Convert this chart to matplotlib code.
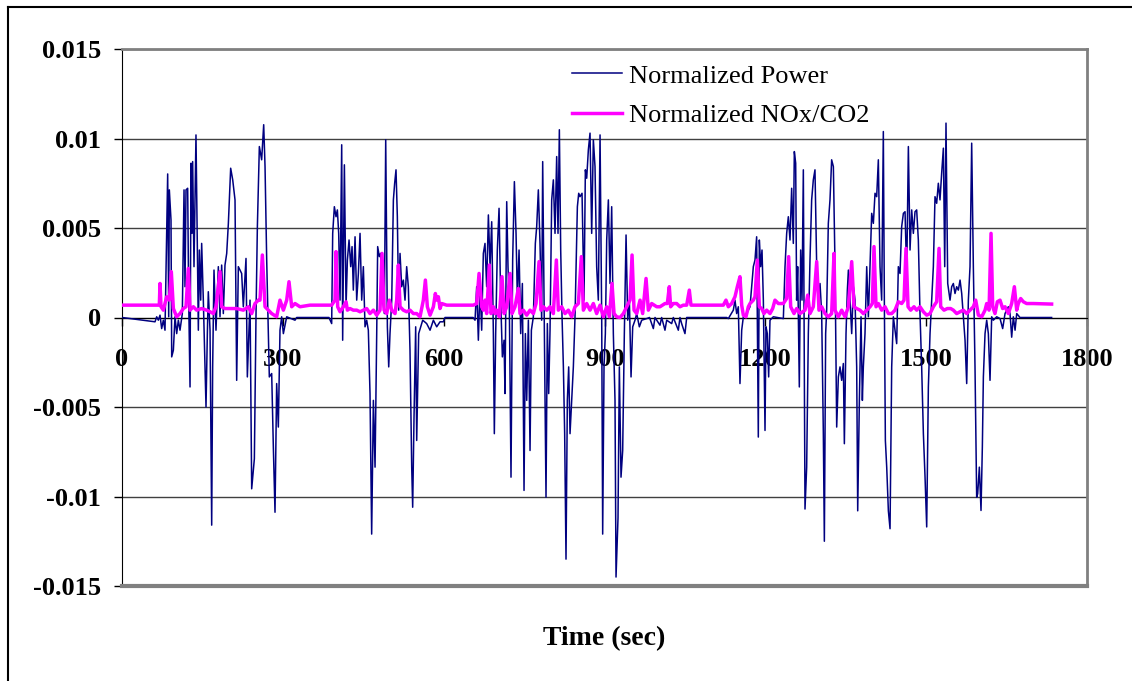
import matplotlib
matplotlib.use("Agg")
import matplotlib.pyplot as plt
import numpy as np

# (time s, value x 1e-3), peaks and troughs only
power_pts = [
    (0, 0), (61.6, -0.24), (64.7, 0.04), (67.8, -0.15), (70.9, 0.13), (74.0, -0.62), (77.1, -0.15),
    (80.2, -0.71), (85.2, 8.02), (87.1, 0.04), (88.3, 7.13), (91.4, 5.45), (92.7, -2.2), (95.8, -1.83),
    (98.9, 0.04), (102.0, -0.9), (105.1, -0.15), (108.2, -0.71), (112.5, 0.22), (115.7, 7.13),
    (117.5, 1.72), (119.4, 7.13), (122.5, 7.22), (124.4, 0.97), (126.9, -3.88), (128.7, 8.62),
    (130.6, 4.70), (131.8, 8.71), (134.3, 2.84), (138.0, 10.2), (142.4, -0.71), (144.3, 3.77),
    (146.8, 0.97), (148.6, 4.14), (151.7, 0.97), (156.7, -5.0), (159.2, -0.9), (161.0, 1.44),
    (164.2, -0.71), (167.3, -11.6), (169.1, -2.76), (171.6, 2.65), (175.3, -0.71), (179.7, 2.84),
    (182.8, 0.04), (185.9, 2.93), (189.0, 0.22), (192.1, 2.93), (195.3, 3.58), (198.4, 5.26),
    (202.7, 8.34), (206.5, 7.69), (210.8, 6.57), (213.9, -3.51), (217.0, 2.84), (220.1, 2.65),
    (223.2, 2.46), (226.3, 0.6), (231.3, 3.3), (233.8, -3.32), (238.8, 0.97), (241.9, -9.57),
    (246.9, -7.89), (250.0, 0.22), (252.5, 5.07), (256.2, 9.55), (260.5, 8.81), (264.3, 10.77),
    (266.8, 8.43), (269.9, 3.21), (274.8, -3.32), (279.2, -3.13), (282.3, -7.24), (285.4, -10.88),
    (288.5, -3.69), (291.6, -6.12), (294.7, -0.71), (297.8, 0.04), (301.0, -0.9), (307.2, 0.04),
    (322.7, -0.15), (325.8, 0),
    (386.0, 0), (391.1, -0.34), (393.0, 4.70), (396.1, 6.19), (399.2, 5.63), (401.7, 6.01),
    (404.2, 4.70), (406.7, 0.97), (409.8, 9.65), (411.6, -1.27), (414.8, 8.53), (417.9, 0.6),
    (420.4, 3.21), (423.5, 4.33), (426.6, 2.84), (429.1, 3.96), (431.5, 1.53), (434.7, 4.51),
    (437.8, 0.97), (440.9, 2.46), (444.0, 4.70), (447.1, 0.97), (450.2, 2.84), (453.3, -0.52),
    (456.4, -0.15), (459.5, -0.71), (462.6, -4.25), (465.7, -12.1), (468.9, -4.63), (472.0, -8.36),
    (475.1, -0.9), (476.9, 3.96), (480.0, 3.40), (482.5, 3.58), (486.3, 0.97), (489.4, 0.22),
    (491.9, 9.93), (495.0, -0.52), (497.5, -2.76), (499.9, -0.9), (503.1, 0.97), (506.2, 6.57),
    (508.6, 7.5), (511.1, 8.25), (513.6, 5.63), (516.1, 0.41), (518.6, 3.58), (521.7, 1.72),
    (524.8, 2.09), (527.9, 0.97), (531.0, 2.84), (534.1, 1.72), (537.2, -1.83), (540.4, -8.36),
    (542.2, -10.6), (544.7, -5.56), (547.8, -0.52), (549.7, -6.87), (553.4, -0.9), (557.1, -0.52),
    (560.9, -0.15), (568.3, -0.34), (574.6, -0.71), (580.8, -0.15), (587.0, -0.52), (593.2, -0.24),
    (599.4, -0.24), (602.5, 0),
    (655.0, 0), (658.5, -0.15), (661.6, 1.72), (664.7, -1.27), (667.8, 1.72), (670.9, -0.71),
    (674.0, 3.58), (677.1, 4.14), (680.2, 1.72), (683.4, 5.73), (686.5, 2.84), (689.6, 5.35),
    (692.7, -0.9), (694.5, -6.49), (697.0, -0.9), (700.1, 3.77), (703.3, 6.10), (706.4, 0.97),
    (709.5, -2.2), (712.6, -1.27), (714.4, -4.25), (717.6, 6.47), (720.0, 2.84), (722.5, 0.6),
    (725.6, -8.92), (728.7, 3.21), (731.9, 7.59), (735.0, 4.70), (737.5, 0.97), (740.6, 3.77),
    (743.7, -0.9), (746.8, 1.90), (749.9, -9.66), (752.4, -0.9), (754.9, -4.63), (758.0, -0.15),
    (761.1, -7.43), (763.6, -0.71), (767.3, 0.04), (771.0, 4.14), (773.5, 5.07), (776.6, 7.13),
    (779.7, 4.14), (782.8, -0.15), (784.7, 8.71), (787.8, -0.9), (790.9, -10.04), (793.4, -0.34),
    (795.9, -4.25), (798.4, -0.71), (801.5, 6.57), (804.6, 7.69), (807.7, 4.70), (810.8, 8.99),
    (813.3, 4.70), (815.8, 10.49), (818.3, 3.77), (820.8, 0.04), (823.3, -2.76), (825.7, -6.49),
    (828.2, -13.5), (830.7, -4.63), (833.2, -2.76), (835.7, -6.49), (838.8, -4.63), (841.9, -2.76),
    (845.0, 0.04), (849.4, 6.19), (851.9, 6.94), (854.3, 6.75), (858.1, 6.94), (861.8, 0.97),
    (864.3, 8.25), (866.8, 7.78), (869.9, 9.37), (873.0, 10.3), (876.1, 4.70), (879.2, 9.93),
    (882.3, 8.43), (885.4, 2.84), (888.5, 0.97), (891.7, 10.2), (894.8, -0.15), (896.6, -12.1),
    (899.1, -2.76), (901.6, -0.9), (904.1, 4.33), (907.2, 6.57), (910.3, 1.90), (913.4, 6.19),
    (916.5, -0.9), (919.6, -4.63), (921.5, -14.5), (925.2, -11.2), (927.7, -2.76), (930.8, -8.92),
    (933.9, -7.43), (937.0, -0.9), (940.2, 4.61), (943.3, -0.15), (946.4, 0.97), (949.5, -3.32),
    (952.6, -0.52), (956.9, -0.15), (960.1, 0.22), (965.0, -0.52), (969.4, -0.15), (978.7, -0.06),
    (984.0, 0), (991.1, -0.62), (994.2, 0), (1003.5, -0.43), (1006.6, 0), (1012.8, -0.71),
    (1016.0, -0.15), (1025.3, -0.34), (1028.4, 0), (1037.7, -0.71), (1040.8, 0), (1043.9, -0.34),
    (1050.1, -0.9), (1053.3, 0),
    (1127.9, 0), (1131.0, -0.06), (1140.3, 0.41), (1143.4, 0.97), (1146.5, 0.22), (1149.6, 0.6),
    (1152.7, -3.69), (1155.9, -0.71), (1159.0, 0.04), (1165.2, 0.22), (1171.4, 0.6), (1177.6, 2.84),
    (1180.7, 3.21), (1183.8, 4.51), (1186.9, -6.68), (1188.8, 4.33), (1191.3, 2.84), (1193.8, 3.77),
    (1196.3, 0.97), (1199.4, -6.31), (1201.2, -0.52), (1203.7, -0.9), (1206.2, -3.32), (1208.7, -0.15),
    (1214.9, 0.04), (1233.6, -0.06), (1236.7, 2.84), (1239.8, 4.70), (1242.9, 5.63), (1246.0, 4.33),
    (1249.1, 7.22), (1252.2, 4.14), (1254.1, 9.27), (1256.6, 8.62), (1258.4, 0.97), (1260.3, 2.84),
    (1263.4, -3.88), (1265.9, 3.77), (1268.4, 0.97), (1270.9, 8.25), (1274.0, -10.7), (1277.1, -8.36),
    (1280.2, -0.9), (1283.3, 3.21), (1286.4, 6.57), (1289.5, 7.69), (1292.6, 8.25), (1295.8, 2.84),
    (1298.9, 0.97), (1302.0, 1.90), (1305.1, 0.22), (1308.2, -6.49), (1310.1, -12.5), (1312.5, -0.9),
    (1314.4, 0.41), (1317.5, 5.26), (1320.6, 6.57), (1323.7, 8.81), (1326.9, 8.43), (1330.0, 2.84),
    (1333.1, -6.12), (1336.2, -3.32), (1339.3, -2.76), (1342.4, -3.51), (1345.5, -2.57),
    (1347.4, -7.05), (1350.5, -0.9), (1353.0, 1.53), (1354.9, 2.65), (1358.0, 0.97), (1361.1, -0.9),
    (1364.2, 1.72), (1367.3, 0.97), (1370.4, -2.76), (1372.3, -10.8), (1375.4, -4.63), (1378.5, 0.04),
    (1381.0, -4.63), (1382.8, -2.76), (1385.9, -0.9), (1389.1, 2.84), (1392.2, 0.04), (1395.3, 2.84),
    (1398.4, 5.82), (1401.5, 5.26), (1404.6, 6.94), (1407.7, 6.75), (1410.8, 8.81), (1413.9, 2.84),
    (1417.0, 0.97), (1420.1, 10.39), (1422.0, 0.97), (1423.9, -6.87), (1426.4, -8.36),
    (1429.5, -10.8), (1432.6, -11.8), (1435.7, -2.76), (1438.8, 0.04), (1441.9, -0.71),
    (1445.0, -1.46), (1448.1, 2.84), (1451.2, 2.46), (1454.3, 5.07), (1457.5, 5.82), (1460.6, 5.91),
    (1463.7, 2.28), (1466.8, 9.55), (1469.9, 3.77), (1473.0, 6.01), (1476.1, 4.70), (1479.2, 5.91),
    (1482.3, 6.01), (1485.4, 4.33), (1488.5, 0.22), (1491.6, -2.76), (1494.8, -6.49), (1497.9, -8.92),
    (1501.0, -11.7), (1504.1, -3.88), (1507.2, -0.9), (1510.3, 0.97), (1513.4, 2.84), (1516.5, 6.75),
    (1519.6, 6.38), (1522.7, 7.5), (1525.8, 6.57), (1528.9, 8.06), (1532.1, 9.46), (1534.6, 2.84),
    (1537.0, 10.86), (1540.2, 1.90), (1544.5, 0.97), (1547.6, 1.72), (1550.7, 1.90), (1553.8, 1.34),
    (1556.9, 1.72), (1560.0, 1.53), (1563.2, 2.09), (1566.3, 1.34), (1569.4, 0.04), (1572.5, -1.27),
    (1575.6, -3.69), (1578.7, 0.97), (1581.8, 2.84), (1584.9, 9.74), (1588.0, 2.84), (1591.1, -2.76),
    (1594.2, -10.04), (1596.1, -9.85), (1599.2, -8.36), (1602.3, -10.78), (1604.8, -7.24),
    (1606.7, -3.32), (1609.8, -0.9), (1612.9, -0.15), (1616.0, -0.9), (1619.1, -3.51), (1622.2, 0.04),
    (1625.3, -0.15), (1631.6, 0.04), (1637.8, -0.06), (1642.7, -0.62), (1647.1, 0.22), (1653.3, 0.6),
    (1656.4, 0.22), (1659.5, -1.1), (1662.6, 0.04), (1665.8, -0.71), (1668.9, 0.22), (1675.0, 0),
    (1734.0, 0),
]

nox_pts = [
    (0, 0.69), (69.6, 0.69), (70.9, 1.90), (72.8, 0.6), (77.1, 0.41), (83.3, 1.16), (88.3, 0.97),
    (92.0, 2.56), (95.8, 0.5), (102.0, 0.04), (108.2, 0.22), (114.4, 0.5), (119.4, 0.6),
    (123.7, 2.74), (126.9, 0.41), (133.1, 0.6), (139.3, 0.41), (148.6, 0.5), (158.0, 0.41),
    (164.2, 0.32), (170.4, 0.22), (175.3, 0.6), (179.7, 1.72), (182.8, 2.56), (185.9, 0.6),
    (192.1, 0.5), (201.5, 0.5), (213.9, 0.5), (226.3, 0.41), (235.7, 0.6), (241.9, 0.22),
    (248.1, 0.78), (254.3, 0.97), (257.4, 0.97), (261.8, 3.49), (266.8, 0.6), (273.0, 0.41),
    (279.2, 0.22), (288.5, 0.04), (294.7, 0.97), (301.0, 0.41), (307.2, 0.97), (311.5, 2.0),
    (316.5, 0.6), (322.7, 0.78), (332.0, 0.6), (350.7, 0.69),
    (391.1, 0.69), (397.3, 0.97), (399.2, 3.68), (402.3, 0.6), (406.7, 0.32), (412.9, 0.6),
    (417.9, 0.88), (420.4, 0.41), (425.3, 0.5), (431.5, 0.41), (437.8, 0.41), (444.0, 0.32),
    (450.2, 0.41), (456.4, 0.5), (462.6, 0.22), (468.9, 0.41), (475.1, 0.13), (481.3, 0.41),
    (485.0, 3.58), (488.8, 0.41), (493.7, 0.22), (498.7, 0.97), (503.1, 0.41), (509.3, 0.22),
    (512.4, 0.97), (515.5, 2.93), (518.6, 0.6), (524.8, 0.41), (531.0, 0.32), (537.2, 0.41),
    (543.5, 0.22), (549.7, 0.22), (555.9, 0.04), (562.1, 0.97), (565.9, 2.09), (569.6, 0.6),
    (574.6, 0.13), (580.8, 0.6), (584.5, 1.34), (587.0, 0.97), (590.1, 1.16), (593.2, 0.5),
    (596.3, 0.78), (605.6, 0.69), (655.4, 0.69), (661.6, 0.78), (666.0, 2.46), (670.9, 0.6),
    (674.0, 0.41), (677.1, 0.97), (680.2, 0.22), (685.2, 2.93), (688.3, 0.22), (692.7, 0.6),
    (695.8, 0.22), (698.9, 0.41), (703.9, 0.04), (708.8, 2.28), (712.6, 0.22), (717.6, 0.6),
    (723.8, 2.46), (727.5, 0.22), (733.1, 0.6), (739.3, 1.62), (742.4, 0.22), (748.6, 0.41),
    (754.9, 0.13), (761.1, 0.41), (767.3, 0.22), (772.3, 0.78), (777.9, 3.12), (781.6, 0.41),
    (786.0, 0.6), (792.2, 0.41), (798.4, 0.6), (804.6, 0.22), (810.2, 3.21), (813.9, 0.41),
    (820.1, 0.6), (826.4, 0.22), (832.6, 0.41), (838.8, 0.04), (845.0, 0.6), (851.2, 0.78),
    (856.8, 3.40), (860.6, 0.41), (866.8, 0.78), (873.0, 0.41), (879.2, 0.78), (885.4, 0.22),
    (891.7, 0.69), (897.9, 0.04), (904.1, 0.6), (909.1, 0.04), (914.0, 1.90), (917.8, 0.22),
    (922.7, 0.04), (929.0, 0.0), (935.2, 0.22), (941.4, 0.6), (947.6, 0.97), (951.4, 3.49),
    (955.1, 0.41), (960.1, 0.22), (966.3, 0.97), (971.2, 0.22), (977.5, 2.18), (981.8, 0.41),
    (988.0, 0.78), (997.4, 0.6),
    (1003.5, 0.6), (1012.8, 0.78), (1017.2, 0.78), (1020.9, 1.72), (1023.4, 0.6), (1028.4, 0.78),
    (1034.6, 0.78), (1040.8, 0.6), (1047.0, 0.69), (1053.3, 0.69), (1058.2, 1.53), (1061.3, 0.69),
    (1121.7, 0.69), (1126.6, 0.97), (1131.0, 0.6), (1137.2, 0.78), (1143.4, 1.16), (1147.8, 1.72),
    (1152.7, 2.28), (1155.9, 0.69), (1159.0, 0.13), (1163.9, 0.04), (1168.3, 0.6), (1171.4, 0.78),
    (1177.6, 0.97), (1180.7, 1.16), (1185.1, 3.21), (1188.8, 0.6), (1193.2, 0.5), (1197.5, 0.22),
    (1202.5, 0.41), (1208.7, 0.22), (1213.7, 0.5), (1218.0, 0.97), (1224.3, 0.78), (1233.6, 0.78),
    (1239.8, 1.06), (1243.5, 3.40), (1247.3, 0.6), (1253.5, 0.22), (1258.4, 0.5), (1264.7, 0.22),
    (1274.0, 0.41), (1279.0, 1.25), (1283.3, 0.22), (1289.5, 0.6), (1295.8, 3.12), (1300.1, 0.41),
    (1305.1, 0.6), (1311.3, 0.22), (1317.5, 0.04), (1323.7, 0.22), (1328.1, 3.58),
    (1330.0, 0.41), (1336.2, 0.04), (1342.4, 0.41), (1348.6, 0.04), (1354.9, 0.6), (1361.1, 3.12),
    (1365.4, 0.6), (1370.4, 0.5), (1376.6, 0.41), (1382.8, 0.22), (1389.1, 0.41), (1395.3, 0.6),
    (1399.6, 0.78), (1402.7, 3.96), (1406.5, 0.6), (1410.8, 0.78), (1417.0, 0.41), (1423.3, 0.6),
    (1429.5, 0.22), (1435.7, 0.22), (1441.9, 0.41), (1448.1, 0.88), (1454.3, 0.78), (1458.7, 0.97),
    (1462.4, 3.86), (1466.2, 0.6), (1471.1, 0.41), (1477.3, 0.6), (1482.3, 0.41), (1488.5, 0.6),
    (1494.8, 0.32), (1501.0, 0.13), (1507.2, 0.22), (1513.4, 0.6), (1519.6, 0.88), (1524.0, 3.86),
    (1527.1, 0.6), (1533.3, 0.41), (1539.5, 0.5), (1545.7, 0.5), (1550.7, 0.41), (1556.9, 0.22),
    (1563.2, 0.32), (1569.4, 0.41), (1575.6, 0.22), (1581.8, 0.41), (1588.0, 0.6), (1592.4, 0.97),
    (1597.4, 0.13), (1603.6, 0.04), (1609.8, 0.41), (1612.9, 0.78), (1617.3, 0.41), (1621.0, 4.70),
    (1624.1, 0.6), (1628.4, 0.22), (1632.8, 0.88), (1637.8, 0.97), (1642.7, 0.5), (1647.1, 0.6),
    (1653.3, 0.22), (1659.5, 0.78), (1664.5, 1.72), (1668.9, 0.41), (1671.9, 0.78), (1676.3, 1.06),
    (1681.2, 0.88), (1687.4, 0.78), (1699.9, 0.78), (1734.0, 0.75),
]

power_t = [p[0] for p in power_pts]
power = np.array([p[1] for p in power_pts]) / 1000.0
nox_t = [p[0] for p in nox_pts]
nox = np.array([p[1] for p in nox_pts]) / 1000.0

x_ticks = [0, 300, 600, 900, 1200, 1500, 1800]
y_ticks = [-0.015, -0.01, -0.005, 0, 0.005, 0.01, 0.015]
y_labels = ["-0.015", "-0.01", "-0.005", "0", "0.005", "0.01", "0.015"]

plt.rcParams["font.family"] = ["Liberation Serif", "DejaVu Serif"]

fig = plt.figure(figsize=(11.32, 6.81), dpi=100)
ax = fig.add_axes([122 / 1132, 1 - 586 / 681, (1087 - 122) / 1132, (586 - 49) / 681])

ax.plot(power_t, power, color="#000080", linewidth=1.1, label="Normalized Power", zorder=3)
ax.plot(nox_t, nox, color="#FF00FF", linewidth=2.5, label="Normalized NOx/CO2", zorder=4)

ax.spines["bottom"].set_position(("data", 0))
ax.spines["bottom"].set_color("black")
ax.spines["left"].set_color("black")
ax.spines["top"].set_color("#808080")
ax.spines["right"].set_color("#808080")
ax.spines["top"].set_linewidth(2)
ax.spines["right"].set_linewidth(2)
ax.plot([0, 1], [0, 0], transform=ax.transAxes, color="#808080", linewidth=3, clip_on=False, zorder=5)

ax.set_xlim(0, 1800)
ax.set_ylim(-0.015, 0.015)
ax.set_xticks(x_ticks)
ax.set_xticklabels([str(v) for v in x_ticks], fontsize=19, fontweight="bold")
ax.set_yticks(y_ticks)
ax.set_yticklabels(y_labels, fontsize=19, fontweight="bold")

ax.grid(axis="y", color="#404040", linewidth=1.0)
ax.set_axisbelow(True)

ax.tick_params(axis="y", direction="out", length=6, width=1, pad=9)
ax.tick_params(axis="x", direction="out", length=6, width=1, pad=16)

ax.set_xlabel("Time (sec)", fontsize=20, fontweight="bold")
ax.xaxis.set_label_coords(0.5, -0.075)

ax.legend(loc="upper left", bbox_to_anchor=(0.447, 1.006), frameon=False, fontsize=19,
          handlelength=1.9, handletextpad=0.25, labelspacing=0.6, borderaxespad=0.3)

# outer border (left and top only)
fig.add_artist(plt.Line2D([8 / 1132, 8 / 1132], [0, 1 - 7 / 681], color="black", linewidth=1.5))
fig.add_artist(plt.Line2D([8 / 1132, 1], [1 - 7 / 681, 1 - 7 / 681], color="black", linewidth=1.5))

fig.savefig("out.png", dpi=100)
